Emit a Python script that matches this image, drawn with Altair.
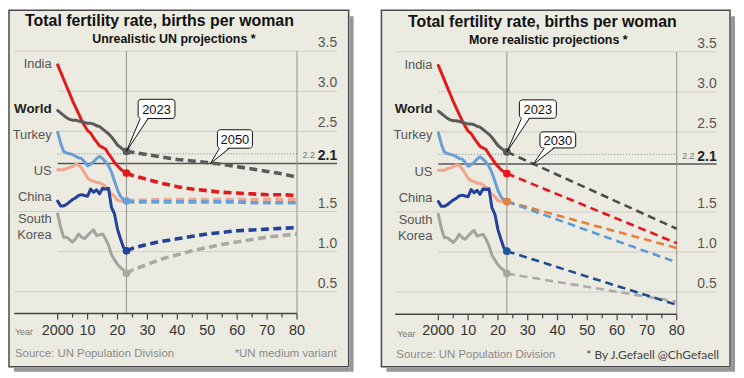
import altair as alt
import pandas as pd

FONT = "Liberation Sans"
BG = "#ecebe1"

# ---------------- data ----------------
hist_years = list(range(2000, 2024))
india_hist = [3.33, 3.24, 3.15, 3.06, 2.97, 2.88, 2.80, 2.72, 2.64, 2.57, 2.51, 2.48,
              2.42, 2.37, 2.32, 2.30, 2.28, 2.22, 2.17, 2.11, 2.07, 2.03, 2.00, 1.98]
world_hist = [2.76, 2.73, 2.70, 2.67, 2.65, 2.64, 2.64, 2.63, 2.62, 2.61, 2.60, 2.60,
              2.59, 2.57, 2.56, 2.53, 2.50, 2.47, 2.43, 2.38, 2.33, 2.30, 2.27, 2.25]
turkey_hist = [2.49, 2.35, 2.25, 2.23, 2.22, 2.21, 2.19, 2.17, 2.16, 2.12, 2.07, 2.09,
               2.12, 2.16, 2.19, 2.16, 2.12, 2.07, 1.99, 1.88, 1.77, 1.69, 1.65, 1.63]
us_hist = [2.02, 2.02, 2.02, 2.04, 2.05, 2.06, 2.09, 2.08, 2.04, 1.98, 1.92, 1.89,
           1.88, 1.86, 1.86, 1.84, 1.81, 1.77, 1.72, 1.69, 1.64, 1.63, 1.63, 1.63]
china_hist = [1.63, 1.57, 1.57, 1.59, 1.62, 1.65, 1.67, 1.70, 1.71, 1.70, 1.69, 1.78,
              1.74, 1.77, 1.72, 1.79, 1.78, 1.79, 1.55, 1.47, 1.28, 1.16, 1.05, 1.01]
korea_hist = [1.47, 1.30, 1.18, 1.18, 1.15, 1.12, 1.16, 1.22, 1.18, 1.16, 1.20, 1.24,
              1.27, 1.20, 1.21, 1.22, 1.16, 1.08, 0.96, 0.90, 0.84, 0.80, 0.77, 0.73]

un_years = [2023, 2025, 2030, 2035, 2040, 2045, 2050, 2055, 2060, 2065, 2070, 2075, 2080]
un_world = [2.25, 2.24, 2.21, 2.18, 2.15, 2.13, 2.11, 2.09, 2.06, 2.03, 2.00, 1.97, 1.93]
un_india = [1.98, 1.95, 1.90, 1.85, 1.81, 1.78, 1.76, 1.74, 1.73, 1.72, 1.71, 1.71, 1.70]
un_turkey = [1.63, 1.62, 1.62, 1.62, 1.62, 1.62, 1.62, 1.62, 1.62, 1.61, 1.61, 1.61, 1.61]
un_us = [1.63, 1.64, 1.64, 1.65, 1.65, 1.65, 1.65, 1.65, 1.65, 1.65, 1.65, 1.65, 1.65]
un_china = [1.01, 1.04, 1.09, 1.13, 1.16, 1.19, 1.22, 1.24, 1.26, 1.27, 1.28, 1.29, 1.30]
un_korea = [0.73, 0.77, 0.84, 0.91, 0.96, 1.01, 1.05, 1.09, 1.12, 1.15, 1.18, 1.20, 1.22]

real_years = [2023, 2080]
real_world = [2.25, 1.29]
real_india = [1.98, 1.11]
real_us = [1.63, 1.05]
real_turkey = [1.63, 0.87]
real_china = [1.01, 0.34]
real_korea = [0.73, 0.38]

country_labels = ["India", "World", "Turkey", "US", "China", "South", "Korea"]
country_label_y = [3.34, 2.78, 2.46, 2.00, 1.68, 1.405, 1.205]
country_label_bold = [False, True, False, False, False, False, False]

grid_values = [3.5, 3.0, 2.5, 1.5, 1.0, 0.5]
grid_full_left = [True, False, False, True, False, True]
ylabel_values = [3.5, 3.0, 2.5, 1.5, 1.0, 0.5]
ylabel_text = ["3.5", "3.0", "2.5", "1.5", "1.0", "0.5"]
replacement = 2.1
dotted_level = 2.22

tick_years = list(range(2000, 2081, 5))
xlabel_years = [2000, 2010, 2020, 2030, 2040, 2050, 2060, 2070, 2080]
xlabel_text = ["2000", "10", "20", "30", "40", "50", "60", "70", "80"]

callouts_un = [
    dict(label="2023", x=2026.9, x2=2039.2, y=2.90, y2=2.66, tx=2023.0, ty=2.25, ba=2027.6, bb=2030.2),
    dict(label="2050", x=2053.4, x2=2065.1, y=2.52, y2=2.29, tx=2051.1, ty=2.10, ba=2054.1, bb=2057.4),
]
callouts_real = [
    dict(label="2023", x=2027.2, x2=2039.6, y=2.90, y2=2.67, tx=2023.0, ty=2.25, ba=2027.9, bb=2030.6),
    dict(label="2030", x=2034.1, x2=2046.1, y=2.50, y2=2.30, tx=2031.7, ty=2.09, ba=2035.6, bb=2038.9),
]

hist_colors = {"India": "#e3191b", "World": "#5b5b5b", "Turkey": "#6a9fd6",
               "US": "#f2a58c", "China": "#23409a", "South Korea": "#a3a3a0"}
un_colors = {"India": "#e3191b", "World": "#5b5b5b", "Turkey": "#6a9fd6",
             "US": "#f2a58c", "China": "#23409a", "South Korea": "#aaaaa5"}
real_colors = {"India": "#ea141c", "World": "#4d4d4d", "Turkey": "#5b9bd5",
               "US": "#e97f3a", "China": "#1f4f8f", "South Korea": "#ababab"}

hist = {"US": us_hist, "Turkey": turkey_hist, "South Korea": korea_hist,
        "China": china_hist, "India": india_hist, "World": world_hist}
un = {"US": un_us, "Turkey": un_turkey, "South Korea": un_korea,
      "China": un_china, "India": un_india, "World": un_world}
real = {"US": real_us, "Turkey": real_turkey, "South Korea": real_korea,
        "China": real_china, "India": real_india, "World": real_world}


def panel(P):
    xs = alt.Scale(domain=P["xdom"], nice=False, zero=False)
    ys = alt.Scale(domain=P["ydom"], nice=False, zero=False)
    X = lambda f="x": alt.X(f"{f}:Q", scale=xs, axis=None)
    Y = lambda f="y": alt.Y(f"{f}:Q", scale=ys, axis=None)
    W, H = P["w"], P["h"]
    base_v = P["base"]
    right_x = 2093.4
    layers = []

    # shadow
    one = alt.Data(values=[{}])
    layers.append(alt.Chart(one).mark_rect(color="#7d7d7d", opacity=0.8).encode(
        x=alt.value(W + 1), x2=alt.value(W + 5), y=alt.value(6), y2=alt.value(H + 5)))
    layers.append(alt.Chart(one).mark_rect(color="#7d7d7d", opacity=0.8).encode(
        x=alt.value(5), x2=alt.value(W + 1), y=alt.value(H + 1), y2=alt.value(H + 5)))

    # gridlines
    g = pd.DataFrame({"y": grid_values,
                      "x": [1985.5 if f else 2000 for f in grid_full_left],
                      "x2": [right_x] * len(grid_values)})
    layers.append(alt.Chart(g).mark_rule(color="#cfcec5", strokeWidth=1).encode(
        x=X(), x2="x2:Q", y=Y()))
    # dotted 2.2
    d = pd.DataFrame({"x": [2000], "x2": [2080], "y": [dotted_level]})
    layers.append(alt.Chart(d).mark_rule(color="#6f8f8f", strokeWidth=1, strokeDash=[1, 2]).encode(
        x=X(), x2="x2:Q", y=Y()))
    # solid 2.1
    s = pd.DataFrame({"x": [2000], "x2": [right_x], "y": [replacement]})
    layers.append(alt.Chart(s).mark_rule(color="#555555", strokeWidth=1.6).encode(
        x=X(), x2="x2:Q", y=Y()))
    # vertical rules
    v = pd.DataFrame({"x": [2023, 2080], "y": [3.5, 3.5], "y2": [base_v, base_v]})
    layers.append(alt.Chart(v).mark_rule(color="#9a9a95", strokeWidth=1.1).encode(
        x=X(), y=Y(), y2="y2:Q"))
    # baseline
    b = pd.DataFrame({"x": [1985.5], "x2": [2080], "y": [base_v]})
    layers.append(alt.Chart(b).mark_rule(color="#444444", strokeWidth=1.5).encode(
        x=X(), x2="x2:Q", y=Y()))
    # ticks
    t = pd.DataFrame({"x": tick_years, "y": [base_v] * len(tick_years),
                      "y2": [base_v - (0.075 if yr % 10 == 0 else 0.05) for yr in tick_years]})
    layers.append(alt.Chart(t).mark_rule(color="#444444", strokeWidth=1.2).encode(
        x=X(), y=Y(), y2="y2:Q"))

    # historical lines
    for name, vals in hist.items():
        df = pd.DataFrame({"x": hist_years, "y": vals})
        layers.append(alt.Chart(df).mark_line(
            color=hist_colors[name], strokeWidth=3, strokeJoin="round", strokeCap="round").encode(
            x=X(), y=Y()))
    # projections
    for name, vals in P["proj"].items():
        df = pd.DataFrame({"x": P["proj_years"], "y": vals})
        layers.append(alt.Chart(df).mark_line(
            color=P["proj_colors"][name], strokeWidth=P["dash_w"], strokeDash=P["dash"]).encode(
            x=X(), y=Y()))
    # dots at 2023
    dots = pd.DataFrame({"x": [2023] * len(P["dot_series"]),
                         "y": [P["proj"][n][0] for n in P["dot_series"]],
                         "c": [P["dot_colors"][n] for n in P["dot_series"]]})
    layers.append(alt.Chart(dots).mark_circle(size=60, opacity=1).encode(
        x=X(), y=Y(), color=alt.Color("c:N", scale=None)))

    # callouts
    for c in P["callouts"]:
        box = pd.DataFrame([c])
        layers.append(alt.Chart(box).mark_rect(
            fill="white", stroke="#111111", strokeWidth=1, cornerRadius=3).encode(
            x=X(), x2="x2:Q", y=Y(), y2="y2:Q"))
        lo = c["ty"] + (c["y2"] - c["ty"]) * (c["ba"] - c["tx"]) / (c["bb"] - c["tx"])
        tri = pd.DataFrame({"x": [c["tx"], c["ba"], c["bb"]],
                            "y": [c["ty"], lo, c["y2"] + 0.02],
                            "y2": [c["ty"], c["y2"] + 0.02, c["y2"] + 0.02]})
        layers.append(alt.Chart(tri).mark_area(color="white", opacity=1).encode(
            x=X(), y=Y(), y2="y2:Q"))
        outline = pd.DataFrame({"x": [c["ba"], c["tx"], c["bb"]],
                                "y": [c["y2"], c["ty"], c["y2"]], "o": [0, 1, 2]})
        layers.append(alt.Chart(outline).mark_line(color="#111111", strokeWidth=1).encode(
            x=X(), y=Y(), order="o:Q"))
        lab = pd.DataFrame({"x": [(c["x"] + c["x2"]) / 2], "y": [(c["y"] + c["y2"]) / 2],
                            "t": [c["label"]]})
        layers.append(alt.Chart(lab).mark_text(
            font=FONT, fontSize=13, color="#111111", baseline="middle", dy=1).encode(
            x=X(), y=Y(), text="t:N"))

    # y labels
    yl = pd.DataFrame({"x": [right_x] * len(ylabel_values), "y": ylabel_values, "t": ylabel_text})
    layers.append(alt.Chart(yl).mark_text(
        font=FONT, fontSize=14, color="#555555", align="right", baseline="alphabetic", dy=-4).encode(
        x=X(), y=Y(), text="t:N"))
    r1 = pd.DataFrame({"x": [right_x], "y": [replacement], "t": ["2.1"]})
    layers.append(alt.Chart(r1).mark_text(
        font=FONT, fontSize=14, fontWeight="bold", color="#222222", align="right",
        baseline="alphabetic", dy=-3).encode(x=X(), y=Y(), text="t:N"))
    r2 = pd.DataFrame({"x": [2086], "y": [replacement], "t": ["2.2"]})
    layers.append(alt.Chart(r2).mark_text(
        font=FONT, fontSize=9, color="#777777", align="right",
        baseline="alphabetic", dy=-5).encode(x=X(), y=Y(), text="t:N"))
    # x labels
    xl = pd.DataFrame({"x": xlabel_years, "y": [0.015] * len(xlabel_years), "t": xlabel_text})
    layers.append(alt.Chart(xl).mark_text(
        font=FONT, fontSize=14.5, color="#333333", baseline="middle").encode(
        x=X(), y=Y(), text="t:N"))
    # country labels
    cl = pd.DataFrame({"x": [1998.0] * len(country_labels), "y": country_label_y,
                       "t": country_labels, "b": country_label_bold})
    layers.append(alt.Chart(cl[~cl.b]).mark_text(
        font=FONT, fontSize=13, color="#555555", align="right", baseline="middle").encode(
        x=X(), y=Y(), text="t:N"))
    layers.append(alt.Chart(cl[cl.b]).mark_text(
        font=FONT, fontSize=13.5, fontWeight="bold", color="#222222", align="right",
        baseline="middle").encode(x=X(), y=Y(), text="t:N"))

    # titles and notes
    def ptext(text, x, y, size, weight="normal", color="#000000", align="left", font=FONT):
        return alt.Chart(alt.Data(values=[{"t": text}])).mark_text(
            font=font, fontSize=size, fontWeight=weight, color=color, align=align,
            baseline="alphabetic").encode(x=alt.value(x), y=alt.value(y), text="t:N")

    tp = P["text"]
    layers.append(ptext("Total fertility rate, births per woman", tp["title_x"], tp["title_y"],
                        16, "bold", "#111111", "center"))
    layers.append(ptext(P["subtitle"], tp["sub_x"], tp["sub_y"], 12.5, "bold", "#111111", "center"))
    layers.append(ptext("Year", tp["year_x"], tp["year_y"], 9, "normal", "#777777"))
    layers.append(ptext("Source: UN Population Division", tp["src_x"], tp["src_y"],
                        11.5, "normal", "#8a8a8a"))
    layers.append(ptext(P["note"], tp["note_x"], tp["note_y"], P["note_size"], "normal",
                        P["note_color"], "right", P["note_font"]))

    return alt.layer(*layers).properties(width=W, height=H)


left = panel(dict(
    w=342, h=359, xdom=[1983.735, 2097.26], ydom=[-0.4374, 4.0112], base=0.228,
    proj=un, proj_years=un_years, proj_colors=un_colors, dash=[8, 4.5], dash_w=3.6,
    dot_series=["Turkey", "South Korea", "China", "India", "World"],
    dot_colors=un_colors, callouts=callouts_un,
    subtitle="Unrealistic UN projections *", note="*UN medium variant",
    note_size=11.5, note_color="#8a8a8a", note_font=FONT,
    text=dict(title_x=151.5, title_y=16, sub_x=166, sub_y=33,
              year_x=6, year_y=327, src_x=6, src_y=349, note_x=330, note_y=349),
))

right = panel(dict(
    w=351, h=359, xdom=[1980.9, 2097.9], ydom=[-0.4342, 4.0198], base=0.223,
    proj=real, proj_years=real_years, proj_colors=real_colors, dash=[8, 5], dash_w=2.6,
    dot_series=["Turkey", "US", "South Korea", "China", "India", "World"],
    dot_colors={"Turkey": "#5b9bd5", "US": "#ee8033", "South Korea": "#a6a6a6",
                "China": "#2057a0", "India": "#f0141c", "World": "#5a5a5a"},
    callouts=callouts_real,
    subtitle="More realistic projections *", note="* By J.Gefaell @ChGefaell",
    note_size=12, note_color="#444444", note_font="Lato",
    text=dict(title_x=162, title_y=17, sub_x=168, sub_y=34,
              year_x=16, year_y=329, src_x=15, src_y=350, note_x=340, note_y=351),
))

chart = alt.hconcat(left, right, spacing=33, bounds="flush").properties(
    padding=0, background="white"
).configure_view(fill=BG, stroke="#4a4a4a", strokeWidth=1.5)

chart.save("out.html", embed_options={"renderer": "svg", "actions": False})
